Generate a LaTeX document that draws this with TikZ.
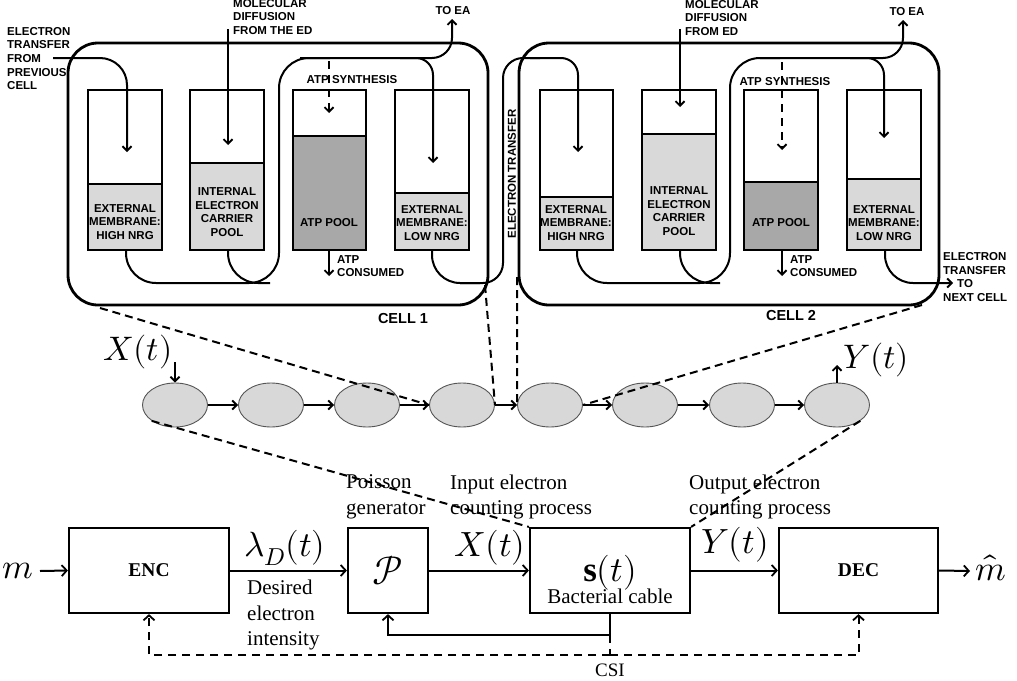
\documentclass[tikz,border=0pt]{standalone}
\usepackage{fontspec}
\usepackage{unicode-math}
\setmainfont{Liberation Serif}
\setmathfont{Latin Modern Math}
\newfontfamily\arialf{Liberation Sans}
\usetikzlibrary{arrows.meta,shapes.geometric}
\definecolor{lgray}{HTML}{D9D9D9}
\definecolor{dgray}{HTML}{A8A8A8}
\definecolor{egray}{HTML}{D8D8D8}
\definecolor{eline}{HTML}{555555}
\tikzset{
  cellborder/.style={line width=2.8pt, rounded corners=30pt},
  plainflow/.style={line width=2pt},
  flow/.style={line width=2pt, -{Straight Barb[length=4.5pt,width=9pt,line width=1.9pt]}},
  dflow/.style={flow, dash pattern=on 8pt off 6pt},
  tankline/.style={line width=1.8pt},
  ctext/.style={font=\arialf\bfseries\fontsize{11.5}{13.6}\selectfont, inner sep=0pt, align=center},
  ltext/.style={ctext, align=left},
  celllab/.style={font=\arialf\bfseries\fontsize{14.5}{16}\selectfont, inner sep=0pt},
  ell/.style={ellipse, draw=eline, fill=egray, line width=0.9pt, minimum width=65pt, minimum height=44pt, inner sep=0pt},
  zl/.style={line width=2pt, dash pattern=on 8pt off 5pt},
  blk/.style={draw, line width=2.2pt, inner sep=0pt, minimum height=85pt, font=\bfseries\fontsize{19.5}{22}\selectfont},
  barr/.style={line width=2pt, -{Straight Barb[length=5pt,width=11pt,line width=1.8pt]}},
  dbarr/.style={barr, dash pattern=on 8pt off 6pt},
  lab/.style={font=\fontsize{21}{25.5}\selectfont, inner sep=0pt, align=left},
  mth/.style={font=\fontsize{35}{40}\selectfont, inner sep=0pt},
}
\newcommand\tank[4]{%
  \fill[#4] (#1,#3) rectangle (#2,250);
  \draw[tankline] (#1,#3) -- (#2,#3);
  \draw[tankline] (#1,90) rectangle (#2,250);
}
\begin{document}
\begin{tikzpicture}[x=1pt,y=-1pt]
\useasboundingbox (0,0) rectangle (1017,680);

% ---------- CELL 1 ----------
\draw[cellborder] (68,43) rectangle (488,305);
\tank{88}{162}{184}{lgray}
\tank{190}{264}{163}{lgray}
\tank{293}{366}{136}{dgray}
\tank{395}{469}{193}{lgray}
\node[ctext] (h1) at (125,222) {EXTERNAL\\MEMBRANE:\\HIGH NRG};
\node[ctext] (i1) at (227,212) {INTERNAL\\ELECTRON\\CARRIER\\POOL};
\node[ctext] (a1) at (329,223) {ATP POOL};
\node[ctext] (l1) at (432,223) {EXTERNAL\\MEMBRANE:\\LOW NRG};

\node[ltext, anchor=west] (prev) at (7,58.5) {ELECTRON\\TRANSFER\\FROM\\PREVIOUS\\CELL};
\node[ltext, anchor=west] (md1) at (233,17) {MOLECULAR\\DIFFUSION\\FROM THE ED};
\node[ctext] (ea1) at (453,11) {TO EA};
\node[ctext] (syn1) at (352,80) {ATP SYNTHESIS};
\node[ltext, anchor=west] (cons1) at (337,266) {ATP\\CONSUMED};
\node[celllab] (cell1) at (403,319) {CELL 1};

\coordinate (pin) at (53,58);
\draw[flow, rounded corners=27pt] (pin) -- (127,58) -- (127,152);
\draw[flow] (228,29) -- (228,145);
\draw[plainflow, rounded corners=30pt] (126,250) -- (126,283) -- (279,283) -- (279,58) -- (330,58);
\draw[plainflow, rounded corners=30pt] (228,250) -- (228,283) -- (270,283);
\draw[flow, rounded corners=17pt] (300,58) -- (433,58) -- (433,163);
\draw[flow, rounded corners=20pt] (400,58) -- (452,58) -- (452,19);
\draw[dflow] (329,61) -- (329,113);
\draw[flow] (329,250) -- (329,276);
% electron transfer between cells
\draw[plainflow, rounded corners=28pt] (432,250) -- (432,283) -- (480,283);
\draw[plainflow, rounded corners=20pt] (460,283) -- (503,283) -- (503,58) -- (540,58);
\draw[flow, rounded corners=17pt] (530,58) -- (578,58) -- (578,152);
\node[ctext, rotate=90] (et) at (512,174) {ELECTRON TRANSFER};

% ---------- CELL 2 ----------
\draw[cellborder] (519,43) rectangle (939,305);
\tank{540}{613}{197}{lgray}
\tank{642}{716}{134}{lgray}
\tank{744}{818}{182}{dgray}
\tank{847}{921}{179}{lgray}
\node[ctext] (h2) at (576,223) {EXTERNAL\\MEMBRANE:\\HIGH NRG};
\node[ctext] (i2) at (679,211) {INTERNAL\\ELECTRON\\CARRIER\\POOL};
\node[ctext] (a2) at (781,223) {ATP POOL};
\node[ctext] (l2) at (884,223) {EXTERNAL\\MEMBRANE:\\LOW NRG};

\node[ltext, anchor=west] (md2) at (685,18) {MOLECULAR\\DIFFUSION\\FROM ED};
\node[ctext] (ea2) at (907,12) {TO EA};
\node[ctext] (syn2) at (785,82) {ATP SYNTHESIS};
\node[ltext, anchor=west] (cons2) at (790,266) {ATP\\CONSUMED};
\node[ltext, anchor=west] (next) at (943,277) {ELECTRON\\TRANSFER\\\hspace*{14pt}TO\\NEXT CELL};
\node[celllab] (cell2) at (791,316) {CELL 2};

\draw[flow] (680,29) -- (680,107);
\draw[plainflow, rounded corners=30pt] (577,250) -- (577,283) -- (730,283) -- (730,58) -- (780,58);
\draw[plainflow, rounded corners=30pt] (680,250) -- (680,283) -- (720,283);
\draw[flow, rounded corners=17pt] (760,58) -- (884,58) -- (884,138);
\draw[flow, rounded corners=20pt] (850,58) -- (903,58) -- (903,20);
\draw[dflow] (782,62) -- (782,150);
\draw[flow] (782,250) -- (782,276);
\draw[flow, rounded corners=28pt] (885,250) -- (885,283) -- (953,283);

% ---------- CHAIN ----------
\node[ell] (e1) at (175,405) {};
\node[ell] (e2) at (271,405) {};
\node[ell] (e3) at (367,405) {};
\node[ell] (e4) at (462,405) {};
\node[ell] (e5) at (550,405) {};
\node[ell] (e6) at (645,405) {};
\node[ell] (e7) at (742,405) {};
\node[ell] (e8) at (837,405) {};
\foreach \a/\b in {e1/e2,e2/e3,e3/e4,e4/e5,e5/e6,e6/e7,e7/e8}
  \draw[flow] (\a) -- (\b);
\coordinate (xin) at (175,362);
\draw[flow] (xin) -- (e1.north);
\coordinate (yout) at (837,365);
\draw[flow] (e8.north) -- (yout);
\node[font=\fontsize{34}{40}\selectfont, inner sep=0pt] (xt) at (138,352) {$X(t)$};
\node[font=\fontsize{34}{40}\selectfont, inner sep=0pt] (yt) at (876,360) {$Y(t)$};

% zoom lines
\coordinate (c1l) at (100,308);
\coordinate (c1r) at (485,285);
\coordinate (c2l) at (517,277);
\coordinate (c2r) at (922,305);
\draw[zl] (c1l) -- (e4.west);
\draw[zl] (c1r) -- (e4.east);
\draw[zl] (c2l) -- (e5.west);
\draw[zl] (c2r) -- (e5.east);

% ---------- BLOCK DIAGRAM ----------
\node[blk, minimum width=160pt] (enc) at (149,570.5) {ENC};
\node[draw, line width=2.2pt, inner sep=0pt, minimum width=80pt, minimum height=85pt, font=\fontsize{40}{44}\selectfont] (P) at (388,570.5) {$\mathcal{P}$};
\node[draw, line width=2.2pt, inner sep=0pt, minimum width=160pt, minimum height=85pt, font=\fontsize{21}{25}\selectfont, text height=70pt, text depth=5pt] (S) at (610,570.5) {Bacterial cable};
\node[blk, minimum width=159pt] (dec) at (858.5,570.5) {DEC};
\node[mth] (st) at (610,573) {$\mathbf{s}(t)$};

\node[mth] (m) at (18,571) {$m$};
\node[mth] (mh) at (991,568) {$\hat{m}$};
\coordinate (mst) at (40,571);
\draw[barr] (mst) -- (enc.west);
\draw[barr] (enc.east) -- (P.west);
\draw[barr] (P.east) -- (S.west);
\draw[barr] (S.east) -- (dec.west);
\coordinate (mend) at (970,571);
\draw[barr] (dec.east) -- (mend);

\node[mth] (lam) at (285,548) {$\lambda_D(t)$};
\node[mth] (xb) at (490,548) {$X(t)$};
\node[mth] (yb) at (735,545) {$Y(t)$};
\node[lab, anchor=west] (des) at (247,615) {Desired\\electron\\intensity};
\node[lab, anchor=west] (pg) at (346,497) {Poisson\\generator};
\node[lab, anchor=west] (inp) at (450,497) {Input electron\\counting process};
\node[lab, anchor=west] (outp) at (689,497) {Output electron\\counting process};

\coordinate (fb) at (610,635);
\draw[barr] (S.south) -- (fb) -| (P.south);
\coordinate (csi) at (610,655);
\draw[line width=2pt, dash pattern=on 8pt off 6pt] (fb) -- (csi);
\draw[dbarr] (csi) -| (enc.south);
\draw[dbarr] (csi) -| (dec.south);
\node[font=\fontsize{19}{22}\selectfont, inner sep=0pt] (csil) at (610,670) {CSI};

\draw[zl] (e1.south west) -- (S.north west);
\draw[zl] (e8.south east) -- (S.north east);
\end{tikzpicture}
\end{document}
